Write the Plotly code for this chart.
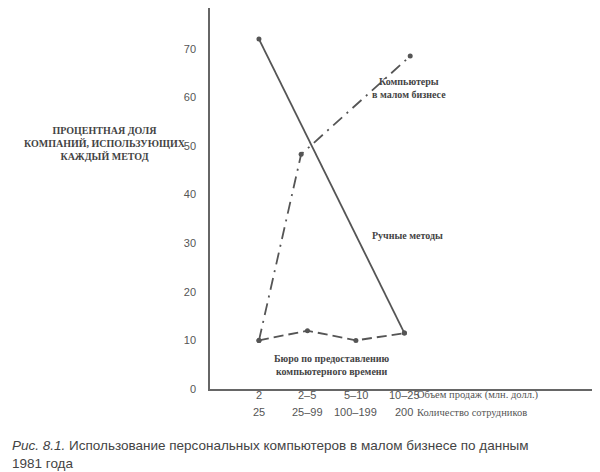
import plotly.graph_objects as go

row1 = ["2", "2–5", "5–10", "10–25"]
row2 = ["25", "25–99", "100–199", "200"]
manual_x = [0, 3]
manual_y = [72, 11.5]
comp_x = [0, 0.87, 3.12]
comp_y = [10, 48.3, 68.5]
bureau_x = [0, 1, 2, 3]
bureau_y = [10, 12, 10, 11.5]

col = "#555555"
fig = go.Figure()
fig.add_trace(go.Scatter(x=manual_x, y=manual_y, mode="lines+markers",
    line=dict(color=col, width=1.8), marker=dict(size=5, color=col)))
fig.add_trace(go.Scatter(x=comp_x, y=comp_y, mode="lines+markers",
    line=dict(color=col, width=1.8, dash="12px,6px,2px,6px"), marker=dict(size=5, color=col)))
fig.add_trace(go.Scatter(x=bureau_x, y=bureau_y, mode="lines+markers",
    line=dict(color=col, width=1.8, dash="10px,5px"), marker=dict(size=5, color=col)))

serif = "Liberation Serif"
TOP, BOT = 0, 91
H = 472 - TOP - BOT
def py(pix):  # pixel y -> paper y
    return (472 - BOT - pix) / H
def px(pix):
    return (pix - 202) / (600 - 202)

ann = []
def a(x, y, text, xref="x", yref="y", size=10, xanchor="center", font=serif, color="#444"):
    ann.append(dict(x=x, y=y, xref=xref, yref=yref, text=text, showarrow=False,
        xanchor=xanchor, font=dict(family=font, size=size, color=color)))
for i, (r1, r2) in enumerate(zip(row1, row2)):
    a(i, py(395), r1, yref="paper", size=11, font="Liberation Sans", color="#555")
    a(i, py(412), r2, yref="paper", size=11, font="Liberation Sans", color="#555")
a(px(407), py(395), "Объем продаж (млн. долл.)", xref="paper", yref="paper", xanchor="left", size=10.5, color="#555")
a(px(407), py(412), "Количество сотрудников", xref="paper", yref="paper", xanchor="left", size=10.5, color="#555")
a(3.1, 62, "<b>Компьютеры<br>в малом бизнесе</b>", size=10)
a(2.3, 31.5, "<b>Ручные методы</b>", xanchor="left", size=10)
a(1.5, 5, "<b>Бюро по предоставлению<br>компьютерного времени</b>", size=10)
a(px(97), 50.5, "<b>ПРОЦЕНТНАЯ ДОЛЯ<br>КОМПАНИЙ, ИСПОЛЬЗУЮЩИХ<br>КАЖДЫЙ МЕТОД</b>", xref="paper", size=10)

fig.update_layout(
    width=600, height=472, showlegend=False,
    plot_bgcolor="white", paper_bgcolor="white",
    margin=dict(l=202, r=0, t=TOP, b=BOT, pad=0),
    annotations=ann,
    xaxis=dict(range=[-1.01, 7.2], showgrid=False, zeroline=False, showticklabels=False,
               showline=True, linecolor="#666", linewidth=1.5),
    yaxis=dict(range=[0, 78.4], tickvals=[0,10,20,30,40,50,60,70], showgrid=False, zeroline=False,
               showline=True, linecolor="#666", linewidth=1.5,
               ticks="", ticklabelstandoff=10,
               tickfont=dict(family="Liberation Sans", size=11, color="#555")),
)
fig.add_annotation(x=px(2), y=py(428), xref="paper", yref="paper", xanchor="left", yanchor="top",
    showarrow=False, align="left",
    text="<i>Рис. 8.1.</i> Использование персональных компьютеров в малом бизнесе по данным<br>1981 года",
    font=dict(family="Liberation Sans", size=13.5, color="#444"))
fig.write_html("out.html")
